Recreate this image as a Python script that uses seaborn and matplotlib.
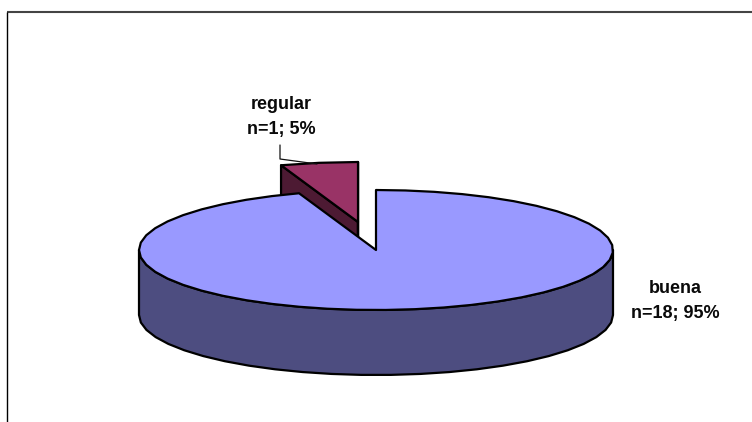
import numpy as np
import matplotlib
matplotlib.use("Agg")
import matplotlib.pyplot as plt
from matplotlib.patches import Polygon
import seaborn as sns

categories = ["buena", "regular"]
counts = [18, 1]
top_colors = ["#9999FF", "#993366"]
side_colors = ["#4D4D80", "#4D1A33"]

sns.set_theme(style="white")
plt.rcParams["font.family"] = ["Liberation Sans", "DejaVu Sans"]

# Oblique projection of the pie, in pixel units of the canvas
CX, CY = 376.0, 250.0
RX, RY = 237.0, 60.0
DEPTH = 65.0
EXPLODE = (-18.0, -28.0)
EDGE = 1.6

fig = plt.figure(figsize=(7.52, 4.22), dpi=100, facecolor="white")
ax = fig.add_axes([0, 0, 1, 1])
ax.set_xlim(0, 752)
ax.set_ylim(422, 0)
ax.axis("off")


def rim(cx, cy, start, end, step=7.0):
    """Points on the elliptical rim between two clockwise angles from 12 o'clock."""
    n = max(2, int(abs(end - start) / step) + 1)
    t = np.radians(np.linspace(start, end, n))
    return np.column_stack([cx + RX * np.sin(t), cy - RY * np.cos(t)])


def fill(points, color, z):
    ax.add_patch(Polygon(points, closed=True, facecolor=color, edgecolor="black",
                         linewidth=EDGE, joinstyle="round", zorder=z))


def draw_slice(cx, cy, start, end, top, side, z):
    down = np.array([0.0, DEPTH])
    centre = np.array([[cx, cy]])
    # Outer wall: only the part of the rim on the near side of the pie
    lo, hi = max(start, 90.0), min(end, 270.0)
    if hi > lo:
        wall = rim(cx, cy, lo, hi)
        fill(np.vstack([wall, (wall + down)[::-1]]), side, z)
    # Cut faces along the two radii
    for angle in (start, end):
        p = rim(cx, cy, angle, angle, 1.0)[:1]
        fill(np.vstack([centre, p, p + down, centre + down]), side, z)
    fill(np.vstack([centre, rim(cx, cy, start, end)]), top, z + 1)


shares = np.array(counts) / sum(counts)
sweeps = shares * 360.0

# Detached slice first, so the large slice overlaps its lower part
draw_slice(CX + EXPLODE[0], CY + EXPLODE[1], sweeps[0], 360.0,
           top_colors[1], side_colors[1], 2)

# Large slice: hide its far cut faces by painting only wall and top
wall = rim(CX, CY, 90.0, 270.0)
fill(np.vstack([wall, (wall + [0.0, DEPTH])[::-1]]), side_colors[0], 4)
fill(np.vstack([[[CX, CY]], rim(CX, CY, 0.0, sweeps[0])]), top_colors[0], 5)

# Leader line for the small slice
ax.plot([280, 280, 317], [145, 159, 164], color="#111111", lw=0.9, zorder=6)

# Value labels
label_style = dict(ha="center", va="center", fontweight="bold", color="#0A0A0A",
                   fontsize=13, linespacing=1.58, zorder=7)
for name, n, share, pos in zip(categories, counts, shares, [(675, 301), (281, 117)]):
    ax.text(*pos, f"{name}\nn={n}; {share * 100:.0f}%", **label_style)

# Chart frame, cut off by the canvas on the right and at the bottom
ax.plot([7, 752], [12, 12], color="#444444", lw=1.5, zorder=1, solid_capstyle="butt")
ax.plot([7.4, 7.4], [12, 422], color="black", lw=1.0, zorder=1, solid_capstyle="butt")

fig.savefig("out.png", dpi=100, facecolor="white")
